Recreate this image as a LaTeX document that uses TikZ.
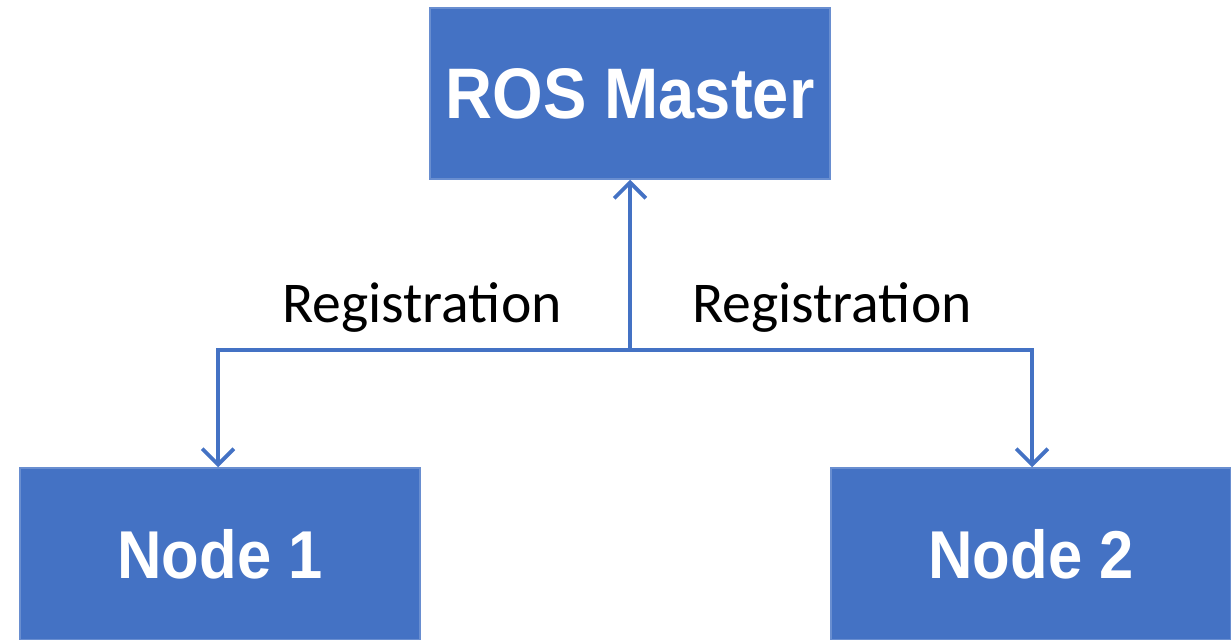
\documentclass[tikz,border=0pt]{standalone}
\usepackage{fontspec}
\setmainfont{Carlito}
\newfontfamily\boxfont{Liberation Sans}
\usetikzlibrary{arrows.meta}
\definecolor{rosblue}{HTML}{4472C4}
\begin{document}
\begin{tikzpicture}[x=0.01cm,y=-0.01cm,
  blockbox/.style={fill=rosblue,draw=rosblue!80!white,line width=0.4pt,inner sep=0pt,
    minimum width=4cm,text=white,font=\boxfont\bfseries},
  conn/.style={draw=rosblue,line width=1.1pt,-{Straight Barb[length=4.5pt,width=9pt,line width=1.1pt]}},
  lbl/.style={font=\fontsize{16.4}{19}\selectfont,anchor=base,inner sep=0pt}]
\useasboundingbox (0,0) rectangle (1231,640);
\node[blockbox,minimum height=1.71cm,font=\boxfont\bfseries\fontsize{18.5}{22}\selectfont] (master) at (630,93.5) {\scalebox{1}[1.1]{ROS Master}};
\node[blockbox,minimum height=1.72cm,font=\boxfont\bfseries\fontsize{17.5}{21}\selectfont] (n1) at (220,554) {\scalebox{1}[1.1]{Node 1}};
\node[blockbox,minimum height=1.72cm,font=\boxfont\bfseries\fontsize{17.5}{21}\selectfont] (n2) at (1031,554) {\scalebox{1}[1.1]{Node 2}};
\coordinate (j) at (630,350);
\coordinate (jl) at (218,350);
\coordinate (jr) at (1032,350);
\draw[draw=rosblue,line width=1.1pt,line join=miter] (jl |- n1.north) ++(0,-10) -- (jl) -- (jr) -- ++(0,10);
\draw[conn] (j) -- (master.south);
\draw[conn] (jl) -- (jl |- n1.north);
\draw[conn] (jr) -- (jr |- n2.north);
\node[lbl] (r1) at (422,322) {Registration};
\node[lbl] (r2) at (832,322) {Registration};
\end{tikzpicture}
\end{document}
